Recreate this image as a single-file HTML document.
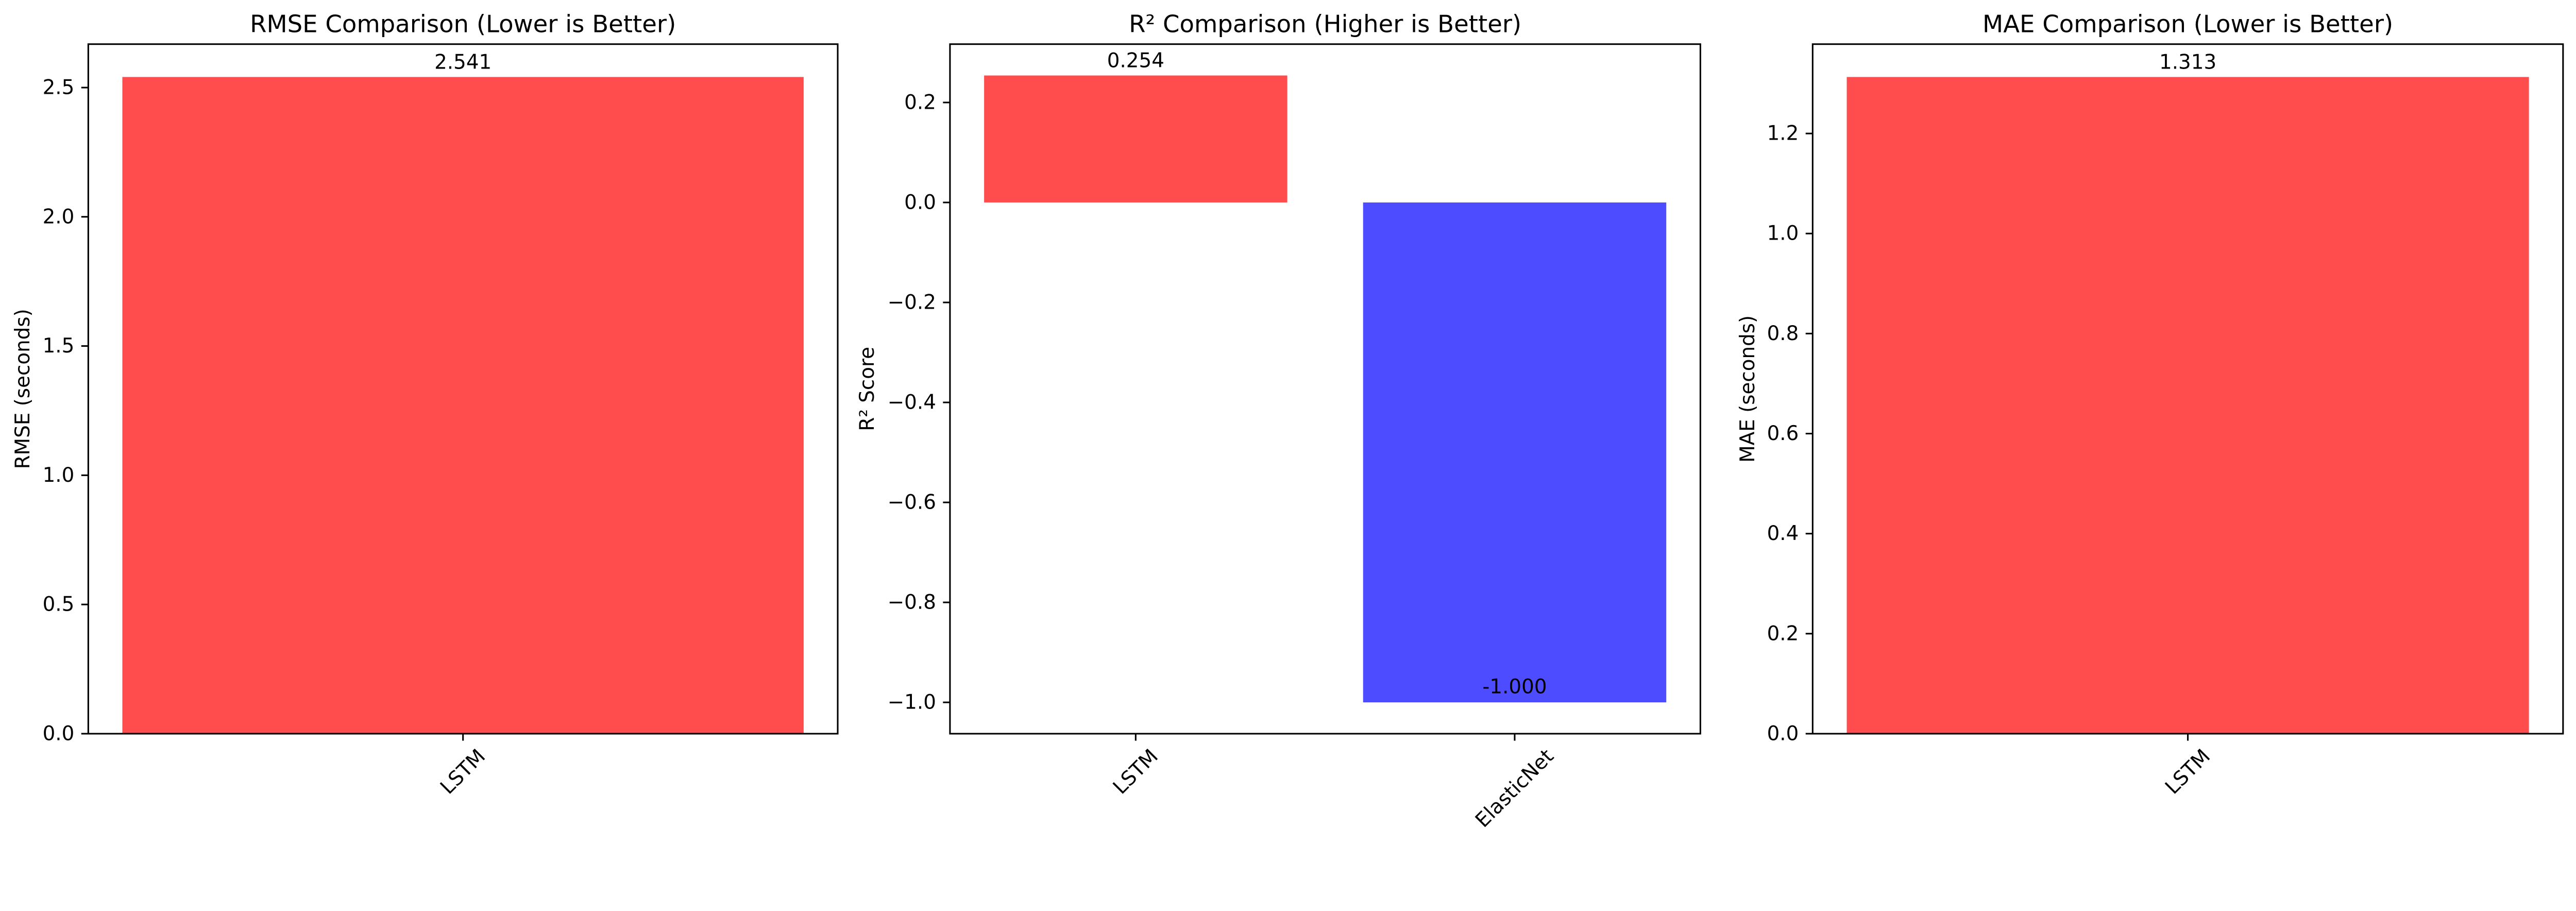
<!DOCTYPE html>
<html><head><meta charset="utf-8">
<style>
html,body{margin:0;padding:0;background:#fff;overflow:hidden;}
svg{display:block;width:100vw;height:calc(100vw * 1768 / 5369);font-family:"DejaVu Sans","Liberation Sans",sans-serif;}
</style></head>
<body>
<svg id="fig" xmlns="http://www.w3.org/2000/svg" viewBox="0 0 5369 1768" preserveAspectRatio="xMinYMin meet">
<rect width="5369" height="1768" fill="#fff"/>
</svg>
<script>
// Panel 1: RMSE
const rmseCategories = ["LSTM"];
const rmseValues = [2.541];
const rmseTicks = [0.0, 0.5, 1.0, 1.5, 2.0, 2.5];
// Panel 2: R2
const r2Categories = ["LSTM", "ElasticNet"];
const r2Values = [0.254, -1.000];
const r2Ticks = [0.2, 0.0, -0.2, -0.4, -0.6, -0.8, -1.0];
// Panel 3: MAE
const maeCategories = ["LSTM"];
const maeValues = [1.313];
const maeTicks = [0.0, 0.2, 0.4, 0.6, 0.8, 1.0, 1.2];

const NS = "http://www.w3.org/2000/svg";
const fig = document.getElementById("fig");
function mk(tag, attrs, parent, text){
  const e = document.createElementNS(NS, tag);
  for (const k in attrs) e.setAttribute(k, attrs[k]);
  if (text !== undefined) e.textContent = text;
  (parent || fig).appendChild(e);
  return e;
}
function fmtTick(v){ const s = v.toFixed(1); return v < 0 ? "\u2212" + s.slice(1) : s; }

const TOP = 92, BOTTOM = 1529;

function panel(opts){
  const {left, right, cats, vals, ticks, colors, title, ylabel, ylabelX, name, xpad} = opts;
  const g = mk("g", {});
  
  
  const dmin = Math.min(0, ...vals), dmax = Math.max(0, ...vals);
  const m = (dmax - dmin) * 0.05;
  const y0 = dmin < 0 ? dmin - m : 0, y1 = dmax + m;
  const ys = v => BOTTOM - (v - y0) / (y1 - y0) * (BOTTOM - TOP);
  const x0 = -xpad, x1 = cats.length - 1 + xpad;
  const xs = i => left + (i - x0) / (x1 - x0) * (right - left);
  const unit = (right - left) / (x1 - x0);

  vals.forEach((v, i) => {
    const top = ys(Math.max(v, 0)), bot = ys(Math.min(v, 0));
    const r = mk("rect", {x: xs(i) - 0.4 * unit, y: top, width: 0.8 * unit, height: bot - top, fill: colors[i]}, g);
    
    
    const ty = v >= 0 ? ys(v) - 17 : ys(v) - 19;
    const t = mk("text", {x: xs(i), y: ty, "text-anchor": "middle", "font-size": 41.7, fill: "#000"}, g, v.toFixed(3));
    
    
  });

  const f = mk("rect", {x: left, y: TOP, width: right - left, height: BOTTOM - TOP, fill: "none", stroke: "#000", "stroke-width": 3.3}, g);
  
  

  ticks.forEach(tv => {
    const y = ys(tv);
    const l = mk("line", {x1: left - 14.6, x2: left, y1: y, y2: y, stroke: "#000", "stroke-width": 3.3}, g);
    
    
    const t = mk("text", {x: left - 29, y: y, "text-anchor": "end", "dominant-baseline": "central", "font-size": 41.7}, g, fmtTick(tv));
    
    
  });

  cats.forEach((c, i) => {
    const x = xs(i);
    const l = mk("line", {x1: x, x2: x, y1: BOTTOM, y2: BOTTOM + 14.6, stroke: "#000", "stroke-width": 3.3}, g);
    
    
    const t = mk("text", {x: 0, y: 0, "text-anchor": "middle", "dominant-baseline": "central", "font-size": 41.7}, g, c);
    
    
    const w = t.getComputedTextLength ? t.getComputedTextLength() : c.length * 25;
    const h = 31;
    const bh = (w + h) * Math.SQRT1_2;
    const cy = BOTTOM + 14.6 + 14.6 + bh / 2;
    t.setAttribute("transform", "translate(" + x + "," + cy + ") rotate(-45)");
  });

  const tt = mk("text", {x: (left + right) / 2, y: 67, "text-anchor": "middle", "font-size": 50}, g, title);
  
  
  const yc = (TOP + BOTTOM) / 2;
  const yl = mk("text", {x: ylabelX, y: yc, "text-anchor": "middle", "dominant-baseline": "central", "font-size": 41.7, transform: "rotate(-90 " + ylabelX + " " + yc + ")"}, g, ylabel);
  
  
}

const RED = "rgb(255,77,77)", BLUE = "rgb(77,77,255)";
panel({left: 184, right: 1746, cats: rmseCategories, vals: rmseValues, ticks: rmseTicks, colors: [RED], title: "RMSE Comparison (Lower is Better)", ylabel: "RMSE (seconds)", ylabelX: 48, name: "rmse", xpad: 0.44});
panel({left: 1980, right: 3544, cats: r2Categories, vals: r2Values, ticks: r2Ticks, colors: [RED, BLUE], title: "R\u00b2 Comparison (Higher is Better)", ylabel: "R\u00b2 Score", ylabelX: 1808, name: "r2", xpad: 0.49});
panel({left: 3778, right: 5342, cats: maeCategories, vals: maeValues, ticks: maeTicks, colors: [RED], title: "MAE Comparison (Lower is Better)", ylabel: "MAE (seconds)", ylabelX: 3643, name: "mae", xpad: 0.44});
</script>
</body></html>
